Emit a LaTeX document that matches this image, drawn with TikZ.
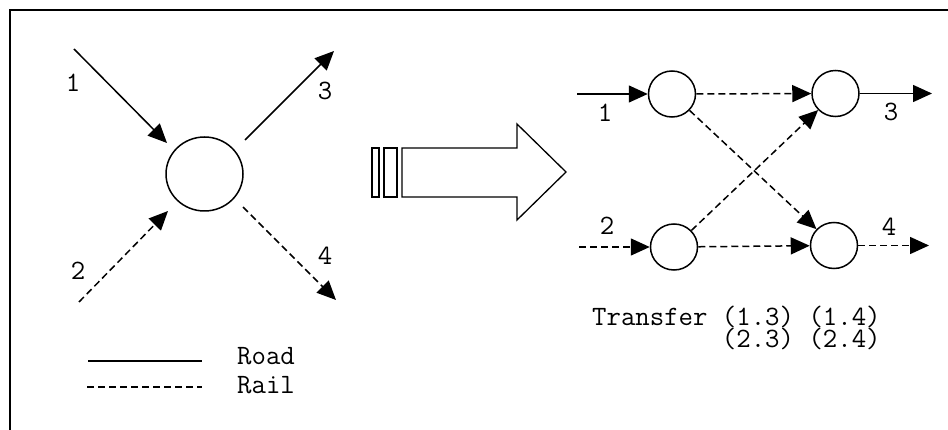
\documentclass[tikz,border=0pt]{standalone}
\usepackage{fontspec}
\usetikzlibrary{arrows.meta,shapes.geometric}

\tikzset{
  link/.style={line width=1.5pt, -{Triangle[length=19pt,width=17pt]}},
  road/.style={link},
  rail/.style={link, dash pattern=on 7pt off 4pt},
  junction/.style={draw, line width=1.5pt, ellipse, inner sep=0pt,
                   minimum width=47pt, minimum height=46pt},
  lbl/.style={inner sep=0pt, font=\fontsize{28}{20.5}\selectfont\ttfamily},
  outline/.style={draw, line width=1.3pt, line join=miter}
}

\begin{document}
\begin{tikzpicture}[x=1pt, y=-1pt]
  \useasboundingbox (0,0) rectangle (948,430);

  % frame (top and left edges)
  \draw[line width=1.5pt] (10,430) -- (10,10) -- (948,10);

  % ---- single interchange ----
  \node[junction, minimum width=77pt, minimum height=74pt] (hub) at (204.5,174) {};
  \coordinate (r1s) at (74,49);   \coordinate (r1e) at (167,143);
  \coordinate (r3s) at (245,140); \coordinate (r3e) at (334,51);
  \coordinate (r2s) at (79,302);  \coordinate (r2e) at (168,211);
  \coordinate (r4s) at (243,207); \coordinate (r4e) at (336,300);
  \draw[road] (r1s) -- (r1e);
  \draw[road] (r3s) -- (r3e);
  \draw[rail] (r2s) -- (r2e);
  \draw[rail] (r4s) -- (r4e);
  \node[lbl, anchor=base] (l1) at (73,92) {1};
  \node[lbl, anchor=base] (l3) at (325,100) {3};
  \node[lbl, anchor=base] (l2) at (78,280) {2};
  \node[lbl, anchor=base] (l4) at (325,265) {4};

  % legend
  \coordinate (lga) at (88,361);  \coordinate (lgb) at (202,361);
  \coordinate (lgc) at (87,387);  \coordinate (lgd) at (202,387);
  \draw[line width=1.5pt] (lga) -- (lgb);
  \draw[line width=1.5pt, dash pattern=on 7pt off 4pt] (lgc) -- (lgd);
  \node[lbl, anchor=base west] (road) at (237,364) {Road};
  \node[lbl, anchor=base west] (rail) at (237,393) {Rail};

  % ---- transformation arrow ----
  \draw[outline] (372,148) rectangle (379,197);
  \draw[outline] (384,148) rectangle (397,197);
  \draw[outline] (402,148) -- (517,148) -- (517,124) -- (566,172)
                 -- (517,220) -- (517,197) -- (402,197) -- cycle;

  % ---- expanded network ----
  \node[junction] (a) at (672,94) {};
  \node[junction] (b) at (835.5,93.5) {};
  \node[junction] (c) at (674,247) {};
  \node[junction] (d) at (834,245.5) {};
  \coordinate (in1) at (577,94);
  \coordinate (in2) at (579,247);
  \coordinate (out3) at (932,93.5);
  \coordinate (out4) at (929,245.5);

  \draw[road] (in1) -- (a);
  \draw[rail] (in2) -- (c);
  \draw[road] (b) -- (out3);
  \draw[rail] (d) -- (out4);
  \draw[rail] (a) -- (b);
  \draw[rail] (c) -- (d);
  \draw[rail] (a) -- (d);
  \draw[rail] (c) -- (b);

  \node[lbl, anchor=base] (n1) at (605,122) {1};
  \node[lbl, anchor=base] (n2) at (607,235) {2};
  \node[lbl, anchor=base] (n3) at (891,121) {3};
  \node[lbl, anchor=base] (n4) at (889,236) {4};

  % transfer list, two lines in one node (base is the last line)
  \node[lbl, anchor=base west, align=left] (tr) at (592,348)
    {Transfer (1.3) (1.4)\\\phantom{Transfer }(2.3) (2.4)};
\end{tikzpicture}
\end{document}
